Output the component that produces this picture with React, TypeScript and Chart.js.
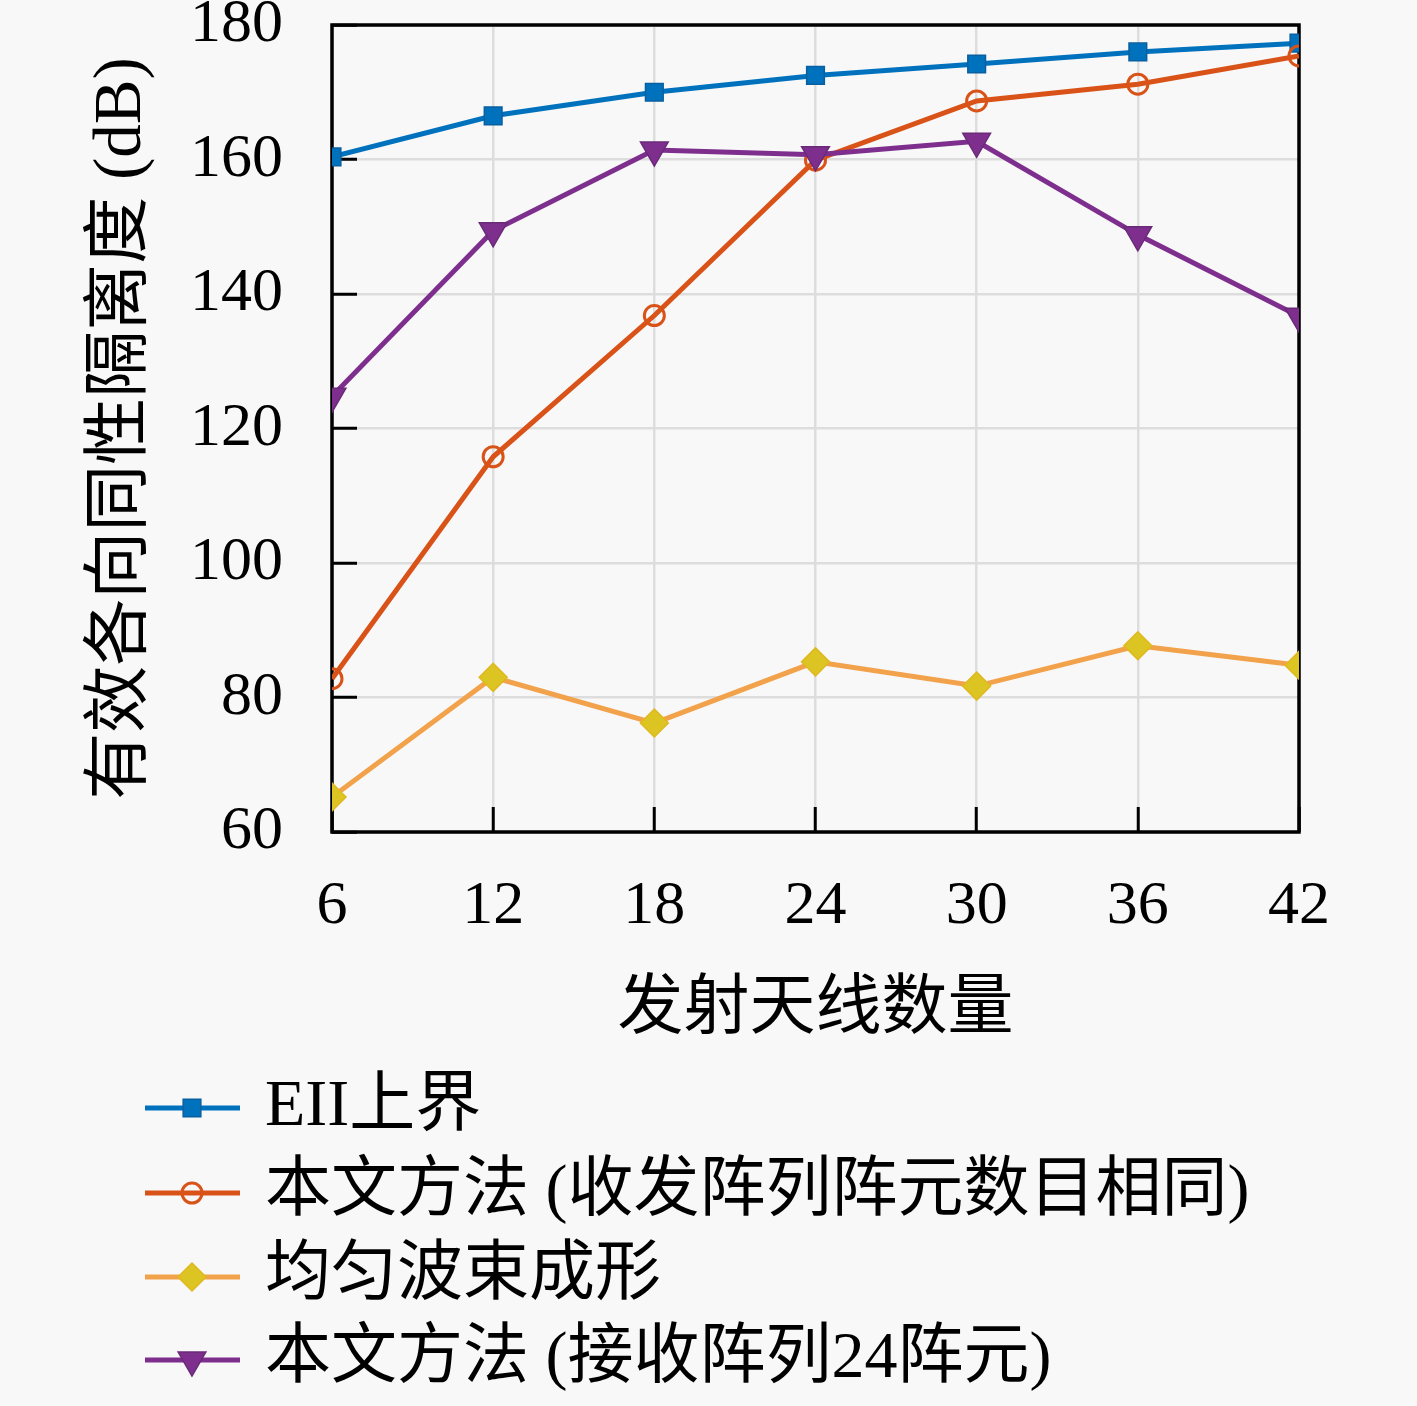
import React, { useEffect, useRef } from 'react'
import { Chart, registerables } from 'chart.js'
import { drawPoint } from 'chart.js/helpers'

Chart.register(...registerables)

// datos
const antennaCounts = [6, 12, 18, 24, 30, 36, 42]
const eiiUpperBound = [160.4, 166.5, 170.0, 172.5, 174.2, 176.0, 177.3]
const proposedSameSize = [82.8, 115.8, 136.8, 159.9, 168.7, 171.2, 175.4]
const uniformBeam = [65.2, 83.0, 76.2, 85.3, 81.7, 87.7, 84.8]
const proposedRx24 = [124.8, 149.4, 161.4, 160.7, 162.7, 148.8, 136.7]

const seriesNames = [
  'EII上界',
  '本文方法 (收发阵列阵元数目相同)',
  '均匀波束成形',
  '本文方法 (接收阵列24阵元)',
]
const xTickValues = [6, 12, 18, 24, 30, 36, 42]
const yTickValues = [60, 80, 100, 120, 140, 160, 180]
const xTitle = '发射天线数量'
const yTitle = '有效各向同性隔离度 (dB)'

const FONT = "'Liberation Serif', 'Noto Sans CJK SC', serif"
const BG = '#f8f8f8'

const toPoints = (ys: number[]) => ys.map((y, i) => ({ x: antennaCounts[i], y }))

const boxPlugin = {
  id: 'box',
  beforeDraw(chart: any) {
    const { ctx, width, height } = chart
    ctx.save()
    ctx.fillStyle = BG
    ctx.fillRect(0, 0, width, height)
    ctx.restore()
  },
  beforeDatasetsDraw(chart: any) {
    const { ctx, chartArea: a } = chart
    ctx.save()
    ctx.strokeStyle = '#000'
    ctx.lineWidth = 3.5
    ctx.strokeRect(a.left, a.top, a.right - a.left, a.bottom - a.top)
    ctx.restore()
  },
}

// leyenda vertical tipo MATLAB debajo del eje x
const legendPlugin = {
  id: 'matlabLegend',
  afterDraw(chart: any) {
    const { ctx } = chart
    const rows = [1108, 1193, 1277, 1360]
    ctx.save()
    chart.data.datasets.forEach((ds: any, i: number) => {
      const y = rows[i]
      ctx.strokeStyle = ds.borderColor
      ctx.lineWidth = ds.borderWidth
      ctx.beginPath()
      ctx.moveTo(145, y)
      ctx.lineTo(240, y)
      ctx.stroke()
      ctx.strokeStyle = ds.pointBorderColor
      ctx.fillStyle = ds.pointBackgroundColor
      ctx.lineWidth = ds.pointBorderWidth
      drawPoint(ctx, {
        pointStyle: ds.pointStyle,
        radius: ds.pointRadius,
        rotation: ds.pointRotation || 0,
        borderWidth: ds.pointBorderWidth,
      }, 192, y)
      ctx.fillStyle = '#000'
      ctx.font = `66px ${FONT}`
      ctx.textBaseline = 'middle'
      ctx.textAlign = 'left'
      ctx.fillText(ds.label, 265, y)
    })
    ctx.restore()
  },
}

export default function App() {
  const canvasRef = useRef<HTMLCanvasElement>(null)

  useEffect(() => {
    document.body.style.margin = '0'
    document.body.style.background = BG
    if (!canvasRef.current) return

    const chart = new Chart(canvasRef.current, {
      type: 'line',
      data: {
        datasets: [
          {
            label: seriesNames[0],
            data: toPoints(eiiUpperBound),
            borderColor: '#0072BD',
            borderWidth: 5,
            pointStyle: 'rect',
            pointRadius: 12.5,
            pointBackgroundColor: '#0072BD',
            pointBorderColor: '#0a5fa0',
            pointBorderWidth: 1.5,
            order: 4,
          },
          {
            label: seriesNames[1],
            data: toPoints(proposedSameSize),
            borderColor: '#D95319',
            borderWidth: 5,
            pointStyle: 'circle',
            pointRadius: 10,
            pointBackgroundColor: 'rgba(0,0,0,0)',
            pointBorderColor: '#D95319',
            pointBorderWidth: 3,
            order: 3,
          },
          {
            label: seriesNames[2],
            data: toPoints(uniformBeam),
            borderColor: '#F2A24A',
            borderWidth: 5,
            pointStyle: 'rectRot',
            pointRadius: 14,
            pointBackgroundColor: '#DCC422',
            pointBorderColor: '#E0B820',
            pointBorderWidth: 1.5,
            order: 2,
          },
          {
            label: seriesNames[3],
            data: toPoints(proposedRx24),
            borderColor: '#7E2F8E',
            borderWidth: 5,
            pointStyle: 'triangle',
            pointRotation: 180,
            pointRadius: 16,
            pointBackgroundColor: '#7E2F8E',
            pointBorderColor: '#6a2a78',
            pointBorderWidth: 1.5,
            order: 1,
          },
        ],
      },
      options: {
        responsive: false,
        animation: false,
        devicePixelRatio: 1,
        layout: { padding: { top: 25, right: 118, left: 0, bottom: 0 } },
        plugins: {
          legend: { display: false },
          tooltip: { enabled: false },
        },
        elements: { line: { tension: 0 } },
        scales: {
          x: {
            type: 'linear',
            min: 6,
            max: 42,
            afterBuildTicks: (scale: any) => {
              scale.ticks = xTickValues.map((v) => ({ value: v }))
            },
            afterFit: (scale: any) => {
              scale.height = 574
              scale.paddingLeft = 0
              scale.paddingRight = 0
            },
            grid: {
              color: '#dddddd',
              lineWidth: 2.5,
              drawTicks: true,
              tickLength: -25,
              tickColor: '#000',
              tickWidth: 3,
            },
            border: { display: false },
            ticks: {
              padding: 63,
              color: '#000',
              font: { family: FONT, size: 62 },
              maxRotation: 0,
            },
            title: {
              display: true,
              text: xTitle,
              color: '#000',
              font: { family: FONT, size: 66 },
              padding: { top: 0, bottom: 356 },
            },
          },
          y: {
            type: 'linear',
            min: 60,
            max: 180,
            afterBuildTicks: (scale: any) => {
              scale.ticks = yTickValues.map((v) => ({ value: v }))
            },
            afterFit: (scale: any) => {
              scale.width = 332
              scale.paddingTop = 0
              scale.paddingBottom = 0
            },
            grid: {
              color: '#dddddd',
              lineWidth: 2.5,
              drawTicks: true,
              tickLength: -25,
              tickColor: '#000',
              tickWidth: 3,
            },
            border: { display: false },
            ticks: {
              padding: 74,
              color: '#000',
              font: { family: FONT, size: 62 },
            },
            title: {
              display: true,
              text: yTitle,
              color: '#000',
              font: { family: FONT, size: 67 },
              padding: { top: 82, bottom: 0 },
            },
          },
        },
      } as any,
      plugins: [boxPlugin, legendPlugin],
    })

    return () => {
      chart.destroy()
    }
  }, [])

  return (
    <div style={{ position: 'fixed', left: 0, top: 0, width: 1417, height: 1406 }}>
      <canvas ref={canvasRef} width={1417} height={1406} style={{ width: 1417, height: 1406 }} />
    </div>
  )
}
